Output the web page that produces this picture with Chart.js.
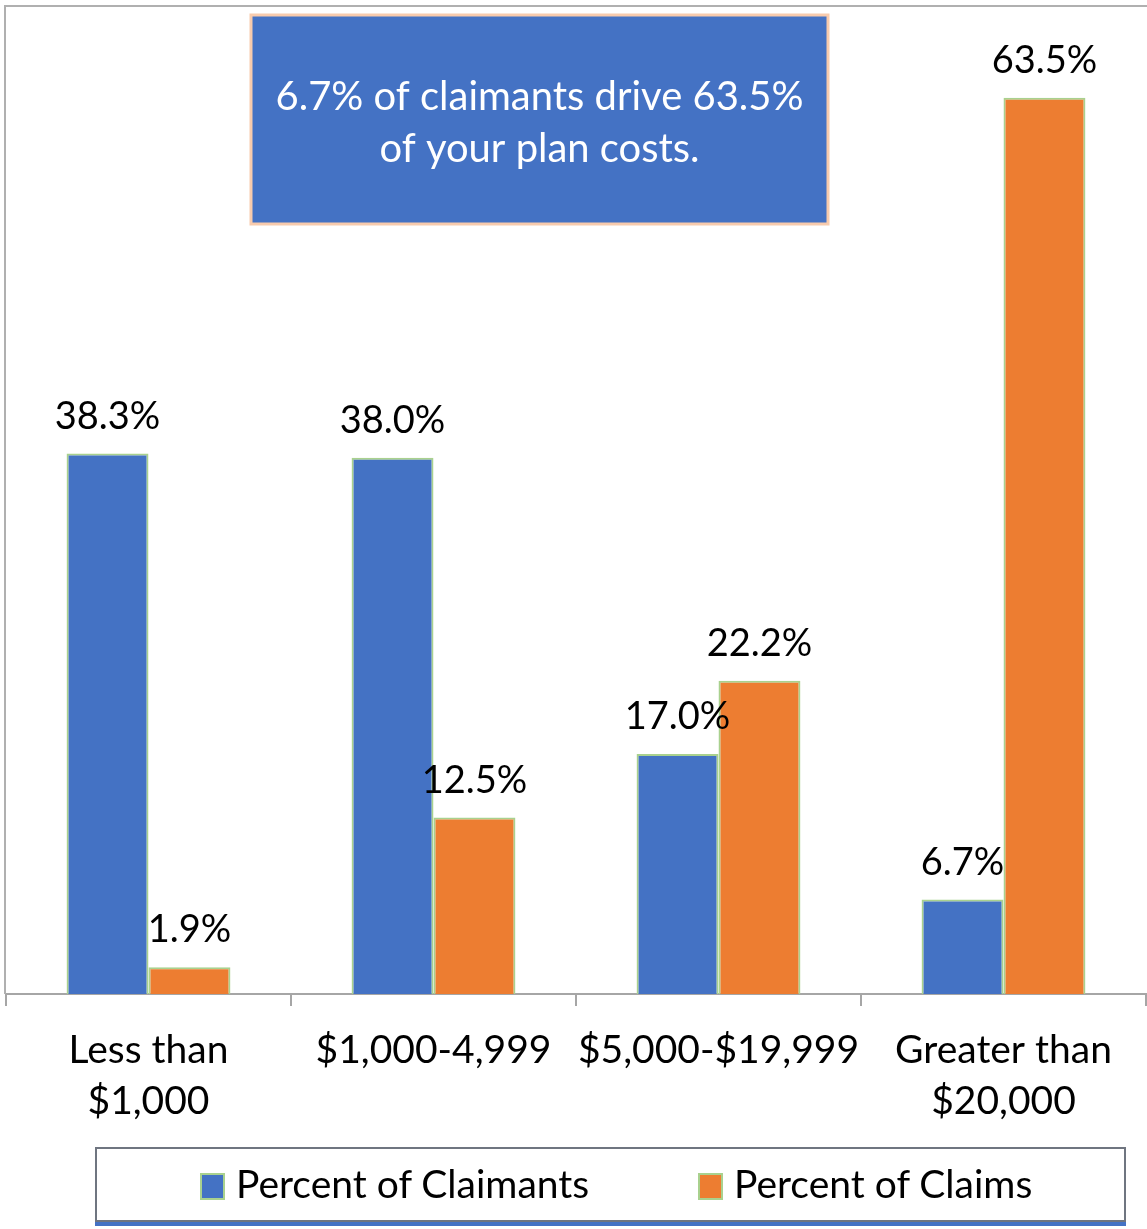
<!DOCTYPE html>
<html>
<head>
<meta charset="utf-8">
<script src="https://cdn.jsdelivr.net/npm/chart.js@4.4.1/dist/chart.umd.min.js"></script>
<style>
  html, body { margin: 0; padding: 0; background: #fff; }
  #wrap { position: relative; width: 1147px; height: 1229px; }
  #chart { position: absolute; left: 0; top: 0; }
  #legend {
    position: absolute; left: 95px; top: 1147px; width: 1027px; height: 71px;
    border: 2px solid #6f7580; background: #fff;
    box-shadow: 0 4px 0 #4472C4;
    font-family: Lato, "Liberation Sans", sans-serif; font-size: 39px; color: #000;
  }
  .item { position: absolute; top: 11px; height: 46px; line-height: 46px; white-space: nowrap; }
  .swatch { display: inline-block; width: 21px; height: 23px; border: 2px solid #A9D18E; vertical-align: -2px; margin-right: 11px; }
</style>
</head>
<body>
<div id="wrap">
  <canvas id="chart" width="1147" height="1229"></canvas>
  <div id="legend">
    <div class="item" style="left:103px"><span class="swatch" style="background:#4472C4"></span>Percent of Claimants</div>
    <div class="item" style="left:601px"><span class="swatch" style="background:#ED7D31"></span>Percent of Claims</div>
  </div>
</div>
<script>
//////////////////////
// Chart Data
//////////////////////
const categories = [["Less than", "$1,000"], "$1,000-4,999", "$5,000-$19,999", ["Greater than", "$20,000"]];
const claimants = [38.3, 38.0, 17.0, 6.7];
const claims = [1.9, 12.5, 22.2, 63.5];
const calloutLines = ["6.7% of claimants drive 63.5%", "of your plan costs."];

//////////////////////
// Value labels above bars + frame + callout box
//////////////////////
const extras = {
    id: "extras",
    afterDatasetsDraw(chart) {
        const ctx = chart.ctx;
        ctx.save();
        ctx.fillStyle = "#000";
        ctx.font = "38px Lato, 'Liberation Sans', sans-serif";
        ctx.textAlign = "center";
        ctx.textBaseline = "middle";
        chart.data.datasets.forEach((ds, i) => {
            chart.getDatasetMeta(i).data.forEach((bar, j) => {
                ctx.fillText(ds.data[j].toFixed(1) + "%", bar.x, bar.y - 37);
            });
        });
        ctx.restore();
    },
    afterDraw(chart) {
        const ctx = chart.ctx;
        const area = chart.chartArea;
        ctx.save();
        // outer frame (top + left)
        ctx.strokeStyle = "#B0B0B0";
        ctx.lineWidth = 2;
        ctx.beginPath();
        ctx.moveTo(area.left - 1, area.bottom);
        ctx.lineTo(area.left - 1, area.top);
        ctx.lineTo(chart.width, area.top);
        ctx.stroke();

        // callout box
        const bx = 251, by = 15, bw = 577, bh = 209;
        ctx.fillStyle = "#4472C4";
        ctx.fillRect(bx, by, bw, bh);
        ctx.strokeStyle = "#F8CBAD";
        ctx.lineWidth = 3;
        ctx.strokeRect(bx, by, bw, bh);
        ctx.fillStyle = "#fff";
        ctx.textAlign = "center";
        ctx.textBaseline = "middle";
        let size = 34;
        ctx.font = size + "px Lato, sans-serif";
        const w = ctx.measureText(calloutLines[0]).width;
        size = size * 528 / w;
        ctx.font = size + "px Lato, sans-serif";
        ctx.fillText(calloutLines[0], bx + bw / 2, 97);
        ctx.fillText(calloutLines[1], bx + bw / 2, 149);
        ctx.restore();
    }
};

//////////////////////
// Draw Chart
//////////////////////
const ctx = document.getElementById("chart").getContext("2d");

new Chart(ctx, {
    type: "bar",
    data: {
        labels: categories,
        datasets: [
            {
                label: "Percent of Claimants",
                data: claimants,
                backgroundColor: "#4472C4",
                borderColor: "#A9D18E",
                borderWidth: 2
            },
            {
                label: "Percent of Claims",
                data: claims,
                backgroundColor: "#ED7D31",
                borderColor: "#A9D18E",
                borderWidth: 2
            }
        ]
    },
    options: {
        responsive: false,
        animation: false,
        layout: { padding: { left: 6, right: 1, top: 6, bottom: 0 } },
        datasets: { bar: { categoryPercentage: 0.575, barPercentage: 1 } },
        plugins: {
            legend: { display: false },
            tooltip: { enabled: false }
        },
        scales: {
            x: {
                grid: { drawOnChartArea: false, drawTicks: true, tickLength: 12, color: "#A6A6A6", lineWidth: 2, offset: true },
                border: { color: "#A6A6A6", width: 2 },
                ticks: {
                    color: "#000",
                    font: { family: "Lato, 'Liberation Sans', sans-serif", size: 39, lineHeight: 1.31 },
                    padding: 19,
                    maxRotation: 0,
                    autoSkip: false
                },
                afterFit(scale) { scale.height = 235; }
            },
            y: {
                display: false,
                min: 0,
                max: 70
            }
        }
    },
    plugins: [extras]
});
</script>
</body>
</html>
